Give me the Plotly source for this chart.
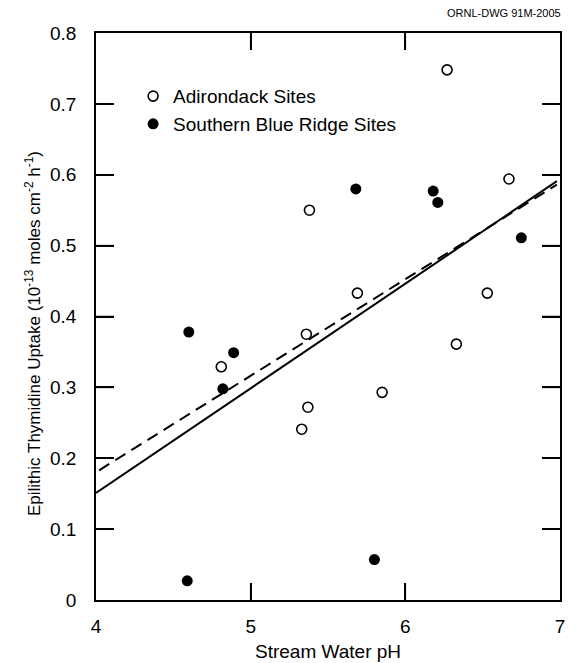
import plotly.graph_objects as go

# Adirondack Sites (open circles)
adk_ph = [5.38, 6.27, 6.67, 5.69, 6.53, 4.81, 5.36, 5.37, 5.33, 6.33, 5.85]
adk_uptake = [0.550, 0.748, 0.594, 0.433, 0.433, 0.329, 0.375, 0.272, 0.241, 0.361, 0.293]

# Southern Blue Ridge Sites (filled circles)
sbr_ph = [5.68, 6.18, 6.21, 6.75, 4.60, 4.89, 4.82, 4.59, 5.80]
sbr_uptake = [0.580, 0.577, 0.561, 0.511, 0.378, 0.349, 0.298, 0.027, 0.057]

# Regression lines (endpoints)
solid_ph = [4.0, 6.98]
solid_fit = [0.151, 0.591]
dash_ph = [4.02, 6.98]
dash_fit = [0.183, 0.586]

x_ticks = [4, 5, 6, 7]
y_ticks = [0, 0.1, 0.2, 0.3, 0.4, 0.5, 0.6, 0.7, 0.8]
y_ticktext = ["0", "0.1", "0.2", "0.3", "0.4", "0.5", "0.6", "0.7", "0.8"]

FONT = "Liberation Sans, Arial, Helvetica, sans-serif"
W, H = 577, 663
ML, MR, MT, MB = 96, 17, 33, 63
PW, PH = W - ML - MR, H - MT - MB
XTICKLEN, YTICKLEN = 17, 18

fig = go.Figure()
fig.add_trace(go.Scatter(x=solid_ph, y=solid_fit, mode="lines",
                         line=dict(color="black", width=2), showlegend=False, hoverinfo="skip"))
fig.add_trace(go.Scatter(x=dash_ph, y=dash_fit, mode="lines",
                         line=dict(color="black", width=2, dash="12px,7px"), showlegend=False, hoverinfo="skip"))
fig.add_trace(go.Scatter(x=adk_ph, y=adk_uptake, mode="markers", name="Adirondack Sites",
                         legendgroup="adk",
                         marker=dict(symbol="circle-open", size=10, color="black", line=dict(width=1.6))))
fig.add_trace(go.Scatter(x=sbr_ph, y=sbr_uptake, mode="markers", name="Southern Blue Ridge Sites",
                         legendgroup="sbr",
                         marker=dict(symbol="circle", size=11, color="black")))

# inside tick marks on all four sides (drawn from the tick arrays)
for xv in x_ticks[1:-1]:
    fig.add_shape(type="line", xref="x", yref="y domain", x0=xv, x1=xv, y0=0, y1=XTICKLEN / PH,
                  line=dict(color="black", width=1.5))
    fig.add_shape(type="line", xref="x", yref="y domain", x0=xv, x1=xv, y0=1, y1=1 - XTICKLEN / PH,
                  line=dict(color="black", width=1.5))
for yv in y_ticks[1:-1]:
    fig.add_shape(type="line", xref="x domain", yref="y", x0=0, x1=YTICKLEN / PW, y0=yv, y1=yv,
                  line=dict(color="black", width=1.5))
    fig.add_shape(type="line", xref="x domain", yref="y", x0=1, x1=1 - YTICKLEN / PW, y0=yv, y1=yv,
                  line=dict(color="black", width=1.5))

fig.update_layout(
    width=W, height=H,
    margin=dict(l=ML, r=MR, t=MT, b=MB),
    plot_bgcolor="white", paper_bgcolor="white",
    font=dict(family=FONT, size=19, color="black"),
    showlegend=True,
    legend=dict(x=0.08, y=0.922, xanchor="left", yanchor="top",
                bgcolor="rgba(0,0,0,0)", font=dict(size=19), itemwidth=30,
                tracegroupgap=0),
)
fig.add_annotation(
    text="ORNL-DWG 91M-2005", xref="paper", yref="paper",
    x=1.0 + (563 - (W - MR)) / PW, y=1.0 + (MT - 13) / PH,
    xanchor="right", yanchor="middle", showarrow=False,
    font=dict(size=11, family=FONT, color="black"),
)
fig.add_annotation(
    text="Epilithic Thymidine Uptake (10<sup>-13</sup> moles cm<sup>-2</sup> h<sup>-1</sup>)",
    xref="paper", yref="paper", x=-(ML - 33) / PW, y=(H - MB - 334) / PH,
    xanchor="center", yanchor="middle", textangle=-90, showarrow=False,
    font=dict(size=17, family=FONT, color="black"),
)
fig.update_xaxes(
    range=[4, 7], tickvals=x_ticks, ticktext=[str(v) for v in x_ticks],
    ticks="inside", ticklen=XTICKLEN, tickwidth=1.5, tickcolor="black",
    showline=True, linecolor="black", linewidth=1.5, mirror="ticks",
    showgrid=False, zeroline=False, automargin=False, ticklabelstandoff=8,
    title=dict(text="Stream Water pH", font=dict(size=19), standoff=9),
)
fig.update_yaxes(
    range=[0, 0.8], tickvals=y_ticks, ticktext=y_ticktext,
    ticks="inside", ticklen=YTICKLEN, tickwidth=1.5, tickcolor="black",
    showline=True, linecolor="black", linewidth=1.5, mirror="ticks",
    showgrid=False, zeroline=False, automargin=False, ticklabelstandoff=14,
)

fig.write_html("out.html")
